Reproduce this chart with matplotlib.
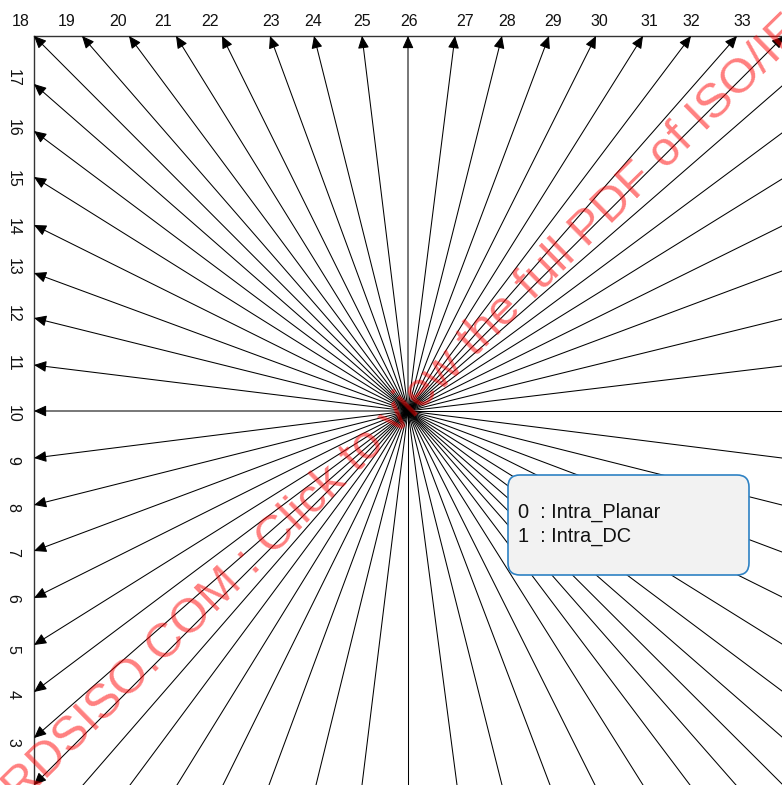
import matplotlib
matplotlib.use('Agg')
import matplotlib.pyplot as plt
from matplotlib.patches import FancyBboxPatch

plt.rcParams['font.family'] = ['Liberation Sans', 'DejaVu Sans']

# mode numbers and where each arrow ends, in pixels from the centre point
left_modes = [17, 16, 15, 14, 13, 12, 11, 10, 9, 8, 7, 6, 5, 4, 3, 2]
left_tips = [327, 280, 234, 186, 138, 93, 46, 0, -47, -94, -140, -187, -234, -281, -327, -374]
top_modes = [18, 19, 20, 21, 22, 23, 24, 25, 26, 27, 28, 29, 30, 31, 32, 33, 34]
top_tips = [-374, -326, -279, -232, -186, -138, -94, -46, 0, 47, 94, 141, 188, 235, 283, 329, 376]

# lines that run off the picture, no arrow head shows on them
right_ends = [325, 278, 232, 185, 140, 92, 45, 0, -47, -94, -141, -186, -233, -280, -326, -373]
bottom_ends = [-325, -278, -231, -185, -139, -92, -46, 0, 49, 94, 142, 187, 235, 282, 328]

# where the tick labels sit, in the same coordinates
top_label_x = [-387, -341, -290, -245, -198, -137, -95, -46, 1, 57, 99, 145, 191, 241, 283, 334]
left_label_y = [333, 283, 232, 184, 144, 97, 48, -3, -49, -96, -141, -187, -238, -284, -331]

legend_lines = ['0  : Intra_Planar', '1  : Intra_DC']
watermark = 'RDSISO.COM : Click to view the full PDF of ISO/IEC'

X_MIN, X_MAX, Y_MIN, Y_MAX = -408, 374, -374, 411
LEFT_EDGE, TOP_EDGE = -374, 375

fig = plt.figure(figsize=(7.82, 7.85), dpi=100)
ax = fig.add_axes([0, 0, 1, 1])
ax.set_xlim(X_MIN, X_MAX)
ax.set_ylim(Y_MIN, Y_MAX)
ax.axis('off')

# the frame along the top and the left
ax.plot([LEFT_EDGE, X_MAX], [TOP_EDGE, TOP_EDGE], color='#333333', lw=1.0, zorder=1)
ax.plot([LEFT_EDGE, LEFT_EDGE], [Y_MIN, TOP_EDGE], color='#333333', lw=1.0, zorder=1)


def arrow(x, y):
    ax.annotate('', xy=(x, y), xytext=(0, 0), zorder=2, annotation_clip=False,
                arrowprops=dict(arrowstyle='-|>,head_length=0.62,head_width=0.28',
                                mutation_scale=12, color='black', lw=0.75,
                                shrinkA=0, shrinkB=0))


for y in left_tips:
    arrow(LEFT_EDGE, y)
for x in top_tips:
    arrow(x, TOP_EDGE)
for y in right_ends:
    ax.plot([0, X_MAX], [0, y], color='black', lw=0.75, zorder=2)
for x in bottom_ends:
    ax.plot([0, x], [0, Y_MIN], color='black', lw=0.75, zorder=2)

# mode numbers
for mode, x in zip(top_modes, top_label_x):
    ax.text(x, 390, str(mode), fontsize=11.5, ha='center', va='center', color='#111111')
for mode, y in zip(left_modes, left_label_y):
    ax.text(-395, y, str(mode), fontsize=11.5, rotation=270, ha='center', va='center', color='#111111')

# legend box
box = FancyBboxPatch((100, -164), 241, 100, boxstyle='round,pad=0,rounding_size=12',
                     facecolor='#f2f2f2', edgecolor='#2e82c4', lw=1.2, zorder=3)
ax.add_patch(box)
ax.text(110, -101, legend_lines[0], fontsize=14.4, va='center', color='#111111', zorder=4)
ax.text(110, -125, legend_lines[1], fontsize=14.4, va='center', color='#111111', zorder=4)

# watermark across the picture
ax.text(-388, -394, watermark, fontsize=35, color='red', alpha=0.5, rotation=44.5,
        rotation_mode='anchor', ha='left', va='baseline', zorder=5, clip_on=True)

fig.savefig('out.png', dpi=100)
